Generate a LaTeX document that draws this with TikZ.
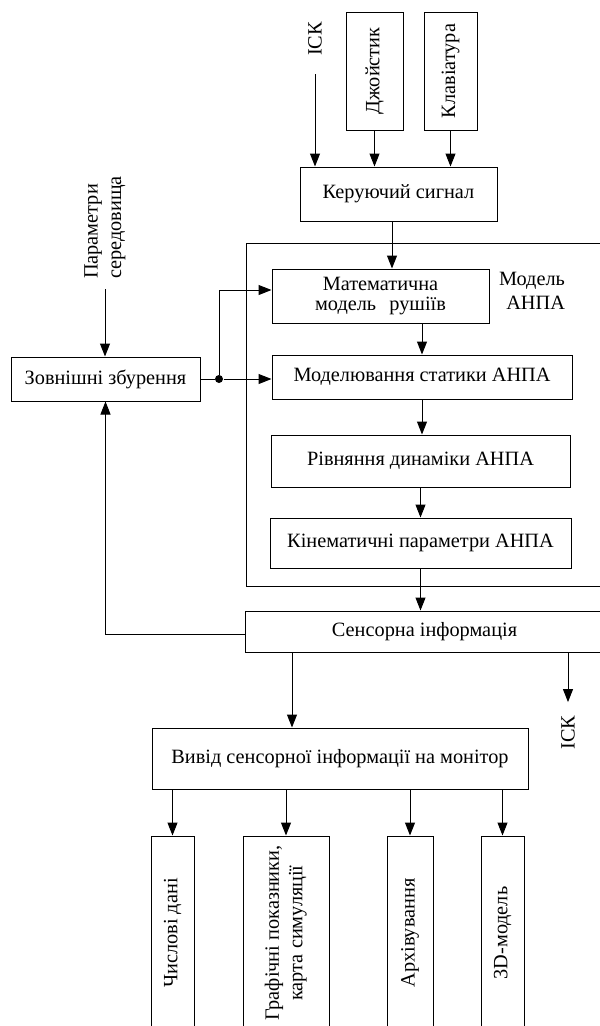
\documentclass[tikz,border=0pt]{standalone}
\usepackage{fontspec}
\setmainfont{Liberation Serif}
\usepackage{graphicx}
\usetikzlibrary{arrows.meta, positioning, calc}

\begin{document}
\begin{tikzpicture}[x=1pt, y=-1pt, line width=1pt,
    font=\fontsize{20.3pt}{23.5pt}\selectfont,
    >={Triangle[length=13pt,width=10pt]},
    box/.style={draw, inner sep=0pt, align=center},
    lbl/.style={inner sep=0pt, align=center},
    dot/.style={circle, fill, inner sep=0pt, minimum size=8pt}]
    \useasboundingbox (0,0) rectangle (600,1026);
    \clip (0,0) rectangle (600,1026);
    % входи
    \node[lbl, rotate=90] (iskin) at (315,39) {ІСК};
    \node[box, minimum width=57, minimum height=118] (joy) at (374.5,71) {\rotatebox{90}{Джойстик}};
    \node[box, minimum width=53, minimum height=118] (kbd) at (450.5,71) {\rotatebox{90}{Клавіатура}};
    \node[box, minimum width=197, minimum height=54] (ctrl) at (398.5,194) {Керуючий сигнал};
    \draw[->] (iskin.west) ++(0,18) -- (iskin.west |- ctrl.north);
    \draw[->] (joy.south) -- (joy.south |- ctrl.north);
    \draw[->] (kbd.south) -- (kbd.south |- ctrl.north);
    % модель АНПА
    \node[box, minimum width=358, minimum height=343] (frame) at (425,414.5) {};
    \node[lbl, align=right] (mlabel) at (532,291) {Модель\\АНПА};
    \node[box, minimum width=217, minimum height=54] (mathm) at (380.5,296) {Математична\\[-3pt]модель \hspace{0.4em}рушіїв};
    \node[box, minimum width=300, minimum height=44] (stat) at (422,377) {Моделювання статики АНПА};
    \node[box, minimum width=299, minimum height=52] (dyn) at (420.5,461) {Рівняння динаміки АНПА};
    \node[box, minimum width=301, minimum height=50] (kin) at (420.5,543) {Кінематичні параметри АНПА};
    \draw[->] ([xshift=-6.5pt]ctrl.south) -- ([xshift=-6.5pt]ctrl.south |- mathm.north);
    \draw[->] (mathm.south -| stat.north) -- (stat.north);
    \draw[->] (stat.south) -- (stat.south |- dyn.north);
    \draw[->] (dyn.south) -- (dyn.south |- kin.north);
    % збурення
    \node[lbl, rotate=90, align=left] (param) at (105,227.5) {Параметри\\середовища};
    \node[box, minimum width=189, minimum height=44] (zov) at (105.5,379) {Зовнішні збурення};
    \node[dot] (split) at (219,379) {};
    \draw[->] (param.west) ++(0,10) -- (param.west |- zov.north);
    \draw (zov.east) -- (split);
    \draw[->] (split) -- (split -| stat.west);
    \draw[->] (split) |- ([yshift=6pt]mathm.west);
    % сенсори
    \node[box, minimum width=359, minimum height=41] (sens) at (424.5,631.5) {Сенсорна інформація};
    \node[lbl, rotate=90] (iskout) at (568,732.5) {ІСК};
    \draw[->] (kin.south) -- (kin.south |- sens.north);
    \draw[->] ([yshift=-2.5pt]sens.west) -| (zov.south);
    \draw[->] (iskout.east |- sens.south) -- ([yshift=13pt]iskout.east);
    % вивід
    \node[box, minimum width=376, minimum height=61] (outv) at (340,758.5) {Вивід сенсорної інформації на монітор};
    \draw[->] ([xshift=-48pt]outv.north |- sens.south) -- ([xshift=-48pt]outv.north);
    \node[box, minimum width=43, minimum height=194] (num) at (172.5,933) {\rotatebox{90}{Числові дані}};
    \node[box, minimum width=86, minimum height=194] (graf) at (286,933) {\rotatebox{90}{\begin{tabular}{@{}c@{}}Графічні показники,\\карта симуляції\end{tabular}}};
    \node[box, minimum width=46, minimum height=194] (arch) at (410,933) {\rotatebox{90}{Архівування}};
    \node[box, minimum width=43, minimum height=194] (d3) at (502.5,933) {\rotatebox{90}{3D-модель}};
    \foreach \b in {num,graf,arch,d3}
        \draw[->] (outv.south -| \b.north) -- (\b.north);
\end{tikzpicture}
\end{document}
